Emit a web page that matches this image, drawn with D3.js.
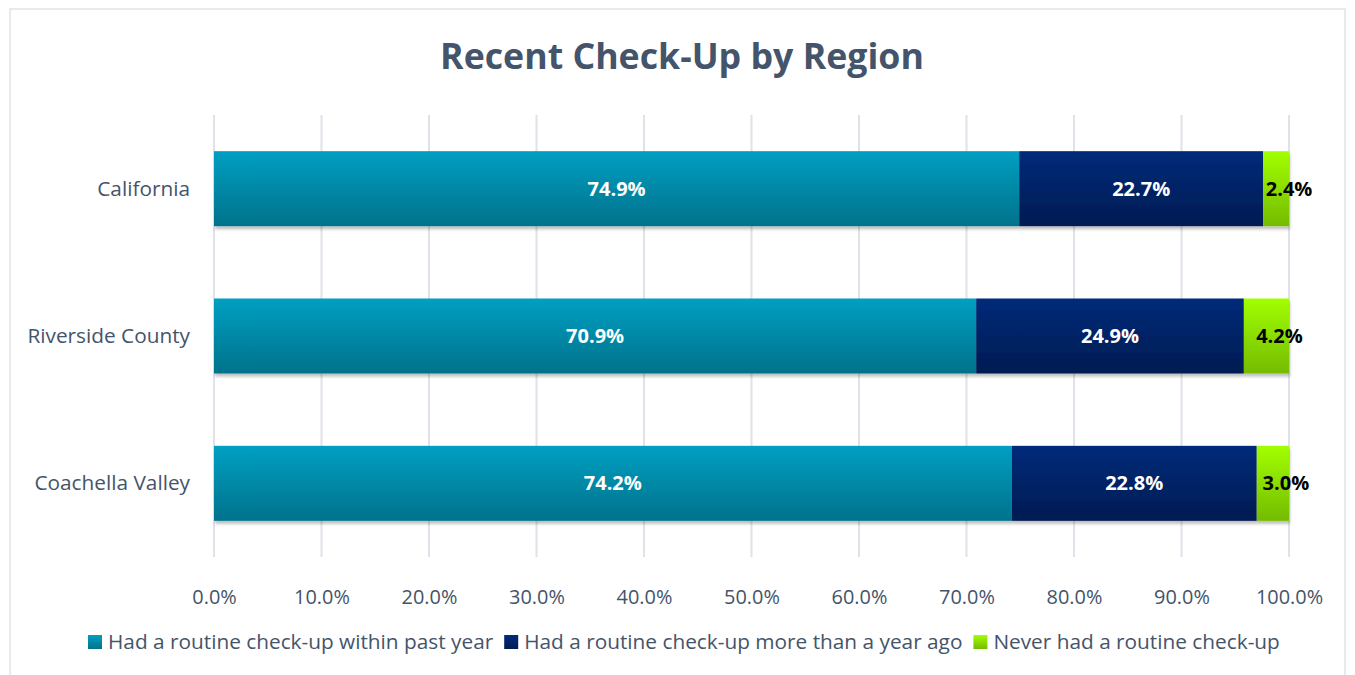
<!DOCTYPE html>
<html>
<head>
<meta charset="utf-8">
<script src="https://cdn.jsdelivr.net/npm/d3@7"></script>
<style>
  body { margin: 0; background: #fff; }
  text { font-family: "Open Sans", Lato, sans-serif; }
</style>
</head>
<body>
<div id="chart"></div>
<script>
const regions = ["California", "Riverside County", "Coachella Valley"];
const seriesNames = [
  "Had a routine check-up within past year",
  "Had a routine check-up more than a year ago",
  "Never had a routine check-up"
];
const withinYear = [74.9, 70.9, 74.2];
const overYear = [22.7, 24.9, 22.8];
const never = [2.4, 4.2, 3.0];
const ticks = [0, 10, 20, 30, 40, 50, 60, 70, 80, 90, 100];

const W = 1355, H = 675;
const margin = {top: 115, right: 66, bottom: 118, left: 214};
const font = "'Open Sans', Lato, sans-serif";

const svg = d3.select("#chart").append("svg")
  .attr("width", W).attr("height", H);

// gradients per series: top colour / bottom colour
const grads = [
  ["#009fc2", "#00728b"],
  ["#002b7a", "#001b52"],
  ["#a2ff00", "#74bb00"]
];
const defs = svg.append("defs");
grads.forEach((g, i) => {
  const lg = defs.append("linearGradient").attr("id", `g${i}`)
    .attr("x1", 0).attr("y1", 0).attr("x2", 0).attr("y2", 1);
  lg.append("stop").attr("offset", "0%").attr("stop-color", g[0]);
  lg.append("stop").attr("offset", "100%").attr("stop-color", g[1]);
});
const shadow = defs.append("filter").attr("id", "shadow")
  .attr("x", "-5%").attr("y", "-10%").attr("width", "110%").attr("height", "130%");
shadow.append("feDropShadow").attr("dx", 1).attr("dy", 3).attr("stdDeviation", 1.5)
  .attr("flood-color", "#000").attr("flood-opacity", 0.25);

// frame
svg.append("rect").attr("x", 10).attr("y", 9).attr("width", W - 20).attr("height", H)
  .attr("fill", "#fff").attr("stroke", "#e1e3e8").attr("stroke-width", 1.5);

svg.append("text").attr("x", 682).attr("y", 69)
  .attr("text-anchor", "middle").attr("font-size", 35.7).attr("font-weight", "bold")
  .attr("fill", "#44546a").text("Recent Check-Up by Region");

const x = d3.scaleLinear().domain([0, 100]).range([margin.left, W - margin.right]);
const y = d3.scaleBand().domain(regions).range([margin.top, H - margin.bottom])
  .paddingInner(0.49).paddingOuter(0.245);

// gridlines
svg.append("g").selectAll("line").data(ticks).join("line")
  .attr("x1", d => x(d)).attr("x2", d => x(d))
  .attr("y1", margin.top).attr("y2", H - margin.bottom)
  .attr("stroke", "#dfe2e8").attr("stroke-width", 2);

const rows = regions.map((r, i) => {
  const vals = [withinYear[i], overYear[i], never[i]];
  let acc = 0;
  return vals.map((v, k) => {
    const seg = {region: r, k, v, x0: acc, x1: acc + v};
    acc += v;
    return seg;
  });
}).flat();

const bh = 75;
const bars = svg.append("g").attr("filter", "url(#shadow)");
bars.selectAll("rect").data(rows).join("rect")
  .attr("x", d => x(d.x0))
  .attr("width", d => x(Math.min(d.x1, 100)) - x(d.x0))
  .attr("y", d => y(d.region) + y.bandwidth() / 2 - bh / 2)
  .attr("height", bh)
  .attr("fill", d => `url(#g${d.k})`);

svg.append("g").selectAll("text").data(rows).join("text")
  .attr("x", d => (x(d.x0) + x(Math.min(d.x1, 100))) / 2 + (d.k === 2 ? 13 : 0))
  .attr("y", d => y(d.region) + y.bandwidth() / 2 + 7)
  .attr("text-anchor", "middle").attr("font-size", 20).attr("font-weight", "bold")
  .attr("fill", d => d.k === 2 ? "#000" : "#fff")
  .text(d => d.v.toFixed(1) + "%");

// category labels
svg.append("g").selectAll("text").data(regions).join("text")
  .attr("x", 190).attr("y", d => y(d) + y.bandwidth() / 2 + 7)
  .attr("text-anchor", "end").attr("font-size", 20.8).attr("fill", "#44546a")
  .text(d => d);

// x axis
const xAxis = svg.append("g").attr("transform", `translate(0,${H - margin.bottom})`)
  .call(d3.axisBottom(x).tickValues(ticks).tickSize(0).tickPadding(33).tickFormat(d => d.toFixed(1) + "%"));
xAxis.select(".domain").remove();
xAxis.selectAll("text").attr("font-size", 19.9).attr("fill", "#44546a")
  .style("font-family", font);

// legend
const legend = svg.append("g");
let lx = 88;
seriesNames.forEach((name, i) => {
  const g = legend.append("g").attr("transform", `translate(${lx},0)`);
  g.append("rect").attr("x", 0).attr("y", 635).attr("width", 14).attr("height", 14)
    .attr("fill", `url(#g${i})`);
  const t = g.append("text").attr("x", 20).attr("y", 649).attr("font-size", 20.8)
    .attr("fill", "#44546a").text(name);
  lx += 20 + t.node().getComputedTextLength() + 11;
});
</script>
</body>
</html>
